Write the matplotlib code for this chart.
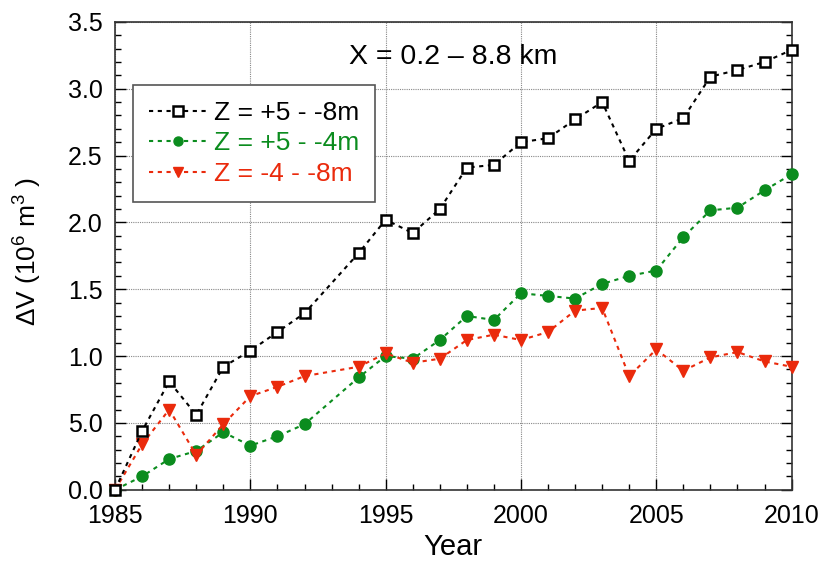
import matplotlib.pyplot as plt
from matplotlib.ticker import MultipleLocator, FixedLocator, FixedFormatter

plt.rcParams['font.family'] = ['Liberation Sans', 'DejaVu Sans']
plt.rcParams['mathtext.fontset'] = 'custom'
plt.rcParams['mathtext.rm'] = 'Liberation Sans'

years = [1985, 1986, 1987, 1988, 1989, 1990, 1991, 1992, 1994, 1995, 1996, 1997,
         1998, 1999, 2000, 2001, 2002, 2003, 2004, 2005, 2006, 2007, 2008, 2009, 2010]

# volume change per zone, 10^6 m^3
dv_total = [0.0, 0.44, 0.81, 0.56, 0.92, 1.04, 1.18, 1.32, 1.77, 2.02, 1.92, 2.10,
            2.41, 2.43, 2.60, 2.63, 2.77, 2.90, 2.46, 2.70, 2.78, 3.09, 3.14, 3.20, 3.29]
dv_upper = [0.0, 0.10, 0.23, 0.29, 0.43, 0.33, 0.40, 0.49, 0.84, 1.00, 0.98, 1.12,
            1.30, 1.27, 1.47, 1.45, 1.43, 1.54, 1.60, 1.64, 1.89, 2.09, 2.11, 2.24, 2.36]
dv_lower = [0.0, 0.34, 0.60, 0.26, 0.49, 0.70, 0.77, 0.85, 0.92, 1.02, 0.95, 0.98,
            1.12, 1.16, 1.12, 1.18, 1.34, 1.36, 0.85, 1.05, 0.89, 0.99, 1.03, 0.96, 0.92]

ytick_vals = [0.0, 0.5, 1.0, 1.5, 2.0, 2.5, 3.0, 3.5]
ytick_text = ['0.0', '5.0', '1.0', '1.5', '2.0', '2.5', '3.0', '3.5']

green = '#0b8c1e'
red = '#ea2a0c'
dots = (0, (2, 2.2))

fig = plt.figure(figsize=(8.22, 5.61), dpi=100)
ax = fig.add_axes([0.140, 0.127, 0.823, 0.834])

ax.plot(years, dv_total, color='black', ls=dots, lw=1.5, marker='s', ms=7,
        mfc='white', mec='black', mew=1.8, label='Z = +5 - -8m', clip_on=False, zorder=5)
ax.plot(years, dv_upper, color=green, ls=dots, lw=1.5, marker='o', ms=8,
        mfc=green, mec=green, label='Z = +5 - -4m', clip_on=False, zorder=4)
ax.plot(years, dv_lower, color=red, ls=dots, lw=1.5, marker='v', ms=8.5,
        mfc=red, mec=red, label='Z = -4 - -8m', clip_on=False, zorder=4)

ax.set_xlim(1985, 2010)
ax.set_ylim(0, 3.5)
ax.xaxis.set_major_locator(MultipleLocator(5))
ax.xaxis.set_minor_locator(MultipleLocator(1))
ax.yaxis.set_major_locator(FixedLocator(ytick_vals))
ax.yaxis.set_major_formatter(FixedFormatter(ytick_text))
ax.yaxis.set_minor_locator(MultipleLocator(0.1))
ax.tick_params(which='both', direction='in', right=True, top=False, labelsize=18)
ax.tick_params(axis='y', pad=9)
ax.tick_params(axis='x', pad=10)
ax.tick_params(which='major', length=8, width=1)
ax.tick_params(which='minor', length=4, width=1)
ax.grid(True, which='major', color='#888888', ls=(0, (1, 1)), lw=0.8)
for s in ax.spines.values():
    s.set_linewidth(1.2)
    s.set_color('#333333')

ax.set_xlabel('Year', fontsize=21, labelpad=4)
ax.set_ylabel(r'$\Delta$V (10$^{6}$ m$^{3}$ )', fontsize=19)
ax.yaxis.set_label_coords(-0.106, 0.51)
ax.text(0.5, 0.925, 'X = 0.2 \u2013 8.8 km', transform=ax.transAxes,
        ha='center', va='center', fontsize=20.5)

leg = ax.legend(loc='upper left', bbox_to_anchor=(0.027, 0.865), fontsize=19,
                fancybox=False, framealpha=1, edgecolor='#555555',
                handlelength=2.15, handletextpad=0.3, borderpad=0.6,
                labelspacing=0.25, borderaxespad=0)
leg.get_frame().set_linewidth(1.2)
for txt, col in zip(leg.get_texts(), ['black', green, red]):
    txt.set_color(col)
for h in leg.legend_handles:
    h.set_markersize(6.5)

fig.savefig('out.png', dpi=100)
